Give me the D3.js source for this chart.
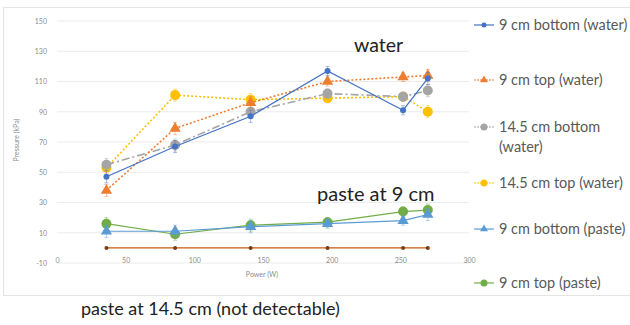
<!DOCTYPE html>
<head>
<title>Pressure vs power</title>
<script src="https://d3js.org/d3.v7.min.js"></script>
<style>
  body { margin: 0; background: #fff; }
  text { font-family: Lato, "Open Sans", sans-serif; }
</style>
</head>
<body>
<div id="my_dataviz"></div>
<script>

// data
const power = [36, 86, 141, 197, 252, 270];
const bottomWater9 = [47, 67, 87, 117, 91, 112];
const topWater9 = [38, 79, 96, 110, 113, 114];
const bottomWater14 = [55, 68, 90, 102, 100, 104];
const topWater14 = [53, 101, 98, 99, 100, 90];
const bottomPaste9 = [11, 11, 14, 16, 18, 22];
const topPaste9 = [16, 9, 15, 17, 24, 25];
const paste14 = [0, 0, 0, 0, 0, 0];
const errs = [4, 4, 4, 3, 3, 4];
const yTicks = [-10, 10, 30, 50, 70, 90, 110, 130, 150];
const xTicks = [0, 50, 100, 150, 200, 250, 300];

const series = [
  {name: ["9 cm bottom (water)"], values: bottomWater9, color: "#4472c4", dash: null, marker: "circle", size: 3},
  {name: ["9 cm top (water)"], values: topWater9, color: "#ed7d31", dash: "2,2", marker: "triangle", size: 5},
  {name: ["14.5 cm bottom", "(water)"], values: bottomWater14, color: "#a5a5a5", dash: "8,3,2,3", marker: "circle", size: 5},
  {name: ["14.5 cm top (water)"], values: topWater14, color: "#ffc000", dash: "2,2", marker: "circle", size: 5},
  {name: ["9 cm bottom (paste)"], values: bottomPaste9, color: "#5b9bd5", dash: null, marker: "triangle", size: 5},
  {name: ["9 cm top (paste)"], values: topPaste9, color: "#70ad47", dash: null, marker: "circle", size: 5},
  {name: null, values: paste14, color: "#c55a11", dash: null, marker: "dot", size: 2}
];

var width = 630, height = 325;
var svg = d3.select("#my_dataviz")
  .append("svg")
    .attr("width", width)
    .attr("height", height);

// chart frame
svg.append("rect")
  .attr("x", 3.5).attr("y", 7.5)
  .attr("width", 640).attr("height", 288)
  .attr("fill", "none").attr("stroke", "#e4e4e4");

var x = d3.scaleLinear().domain([0, 300]).range([57, 469]);
var y = d3.scaleLinear().domain([-10, 150]).range([263, 21]);

// gridlines
svg.append("g")
  .selectAll("line")
  .data(yTicks)
  .enter().append("line")
    .attr("x1", x(0)).attr("x2", x(300))
    .attr("y1", d => y(d)).attr("y2", d => y(d))
    .attr("stroke", "#ececec");

// y axis labels
svg.append("g")
  .attr("transform", "translate(" + (x(0) - 6) + ",0)")
  .call(d3.axisLeft(y).tickValues(yTicks).tickFormat(d => String(d)).tickSize(0).tickPadding(4))
  .call(g => g.select(".domain").remove())
  .selectAll("text")
    .attr("font-size", 7).attr("fill", "#8c8c8c")
    .style("font-family", "Lato, sans-serif");

// x axis labels
svg.append("g")
  .attr("transform", "translate(0," + (y(-10) - 5) + ")")
  .call(d3.axisBottom(x).tickValues(xTicks).tickFormat(d => String(d)).tickSize(0).tickPadding(0))
  .call(g => g.select(".domain").remove())
  .selectAll("text")
    .attr("font-size", 7).attr("fill", "#8c8c8c")
    .style("font-family", "Lato, sans-serif");

svg.append("text")
  .attr("transform", "translate(19,140)rotate(-90)")
  .attr("text-anchor", "middle")
  .attr("font-size", 7).attr("fill", "#8c8c8c")
  .text("Pressure (kPa)");

svg.append("text")
  .attr("x", 262).attr("y", 277)
  .attr("text-anchor", "middle")
  .attr("font-size", 7).attr("fill", "#8c8c8c")
  .text("Power (W)");

var line = d3.line()
  .x((d, i) => x(power[i]))
  .y(d => y(d));

function drawMarker(g, type, cx, cy, size, color) {
  if (type == "triangle") {
    g.append("path")
      .attr("d", d3.symbol().type(d3.symbolTriangle).size(size * size * 2.2)())
      .attr("transform", "translate(" + cx + "," + cy + ")")
      .attr("fill", color);
  } else if (type == "dot") {
    g.append("circle").attr("cx", cx).attr("cy", cy).attr("r", size).attr("fill", "#7a3b10");
  } else {
    g.append("circle").attr("cx", cx).attr("cy", cy).attr("r", size).attr("fill", color);
  }
}

// series: error bars, lines, markers
series.slice().reverse().forEach(function(s) {
  var g = svg.append("g");
  if (s.marker != "dot") {
    s.values.forEach(function(v, i) {
      var cx = x(power[i]);
      g.append("line")
        .attr("x1", cx).attr("x2", cx)
        .attr("y1", y(v - errs[i])).attr("y2", y(v + errs[i]))
        .attr("stroke", s.color).attr("stroke-opacity", 0.45);
      [v - errs[i], v + errs[i]].forEach(function(e) {
        g.append("line")
          .attr("x1", cx - 2).attr("x2", cx + 2)
          .attr("y1", y(e)).attr("y2", y(e))
          .attr("stroke", s.color).attr("stroke-opacity", 0.45);
      });
    });
  }
  g.append("path")
    .datum(s.values)
    .attr("d", line)
    .attr("fill", "none")
    .attr("stroke", s.color)
    .attr("stroke-width", s.dash ? 1.6 : 1.2)
    .attr("stroke-dasharray", s.dash);
  s.values.forEach(function(v, i) {
    drawMarker(g, s.marker, x(power[i]), y(v), s.size, s.color);
  });
});

// annotations
svg.append("text").attr("x", 354).attr("y", 52)
  .attr("font-size", 19.5).attr("fill", "#222").text("water");
svg.append("text").attr("x", 317).attr("y", 201)
  .attr("font-size", 20).attr("fill", "#222").text("paste at 9 cm");
svg.append("text").attr("x", 81).attr("y", 315)
  .attr("font-size", 18).attr("fill", "#222").text("paste at 14.5 cm (not detectable)");

// legend
var legendY = [25, 80, 127, 183, 229, 283];
series.slice(0, 6).forEach(function(s, i) {
  var g = svg.append("g").attr("transform", "translate(474," + legendY[i] + ")");
  g.append("line").attr("x1", 0).attr("x2", 20)
    .attr("stroke", s.color).attr("stroke-width", 1.2)
    .attr("stroke-dasharray", s.dash ? "2,1" : null);
  drawMarker(g, s.marker, 10, 0, s.marker == "circle" && s.size > 3 ? 3.5 : (s.marker == "triangle" ? 3.5 : 2.5), s.color);
  s.name.forEach(function(t, j) {
    g.append("text")
      .attr("x", 25).attr("y", 5 + j * 20)
      .attr("font-size", 14.5).attr("fill", "#595959")
      .text(t);
  });
});

</script>
</body>
</html>
